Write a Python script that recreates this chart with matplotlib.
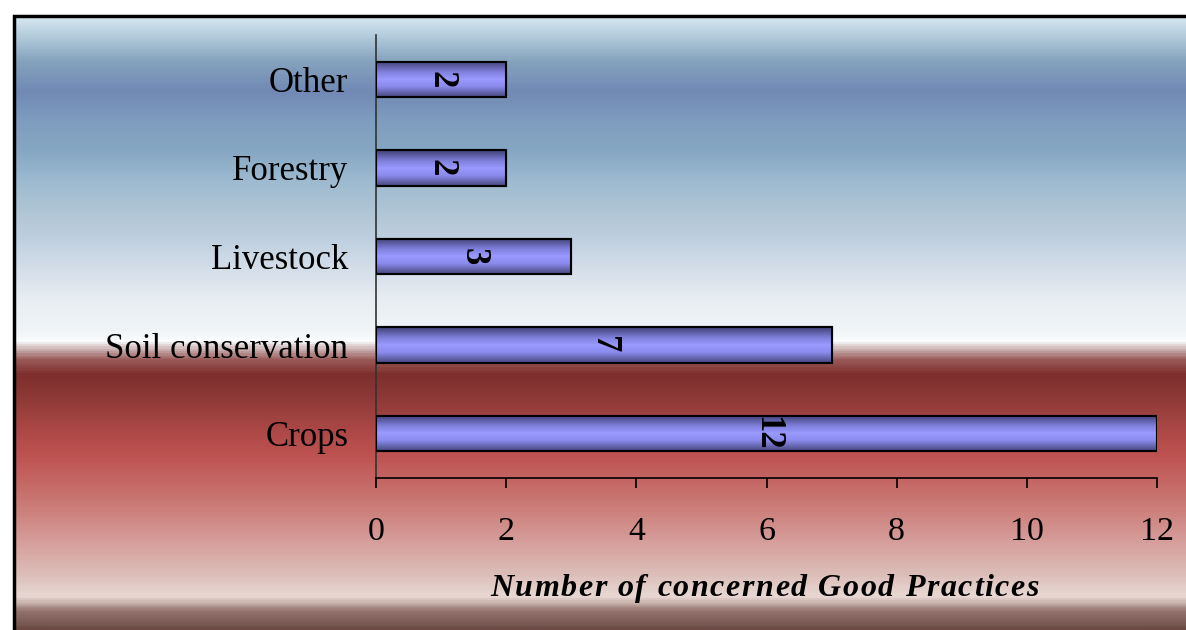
import numpy as np
import matplotlib
matplotlib.use("Agg")
import matplotlib.pyplot as plt
from matplotlib.colors import LinearSegmentedColormap

categories = ["Crops", "Soil conservation", "Livestock", "Forestry", "Other"]
counts = [12, 7, 3, 2, 2]
x_ticks = [0, 2, 4, 6, 8, 10, 12]
x_label = "Number of concerned Good Practices"

plt.rcParams["font.family"] = ["Liberation Serif", "DejaVu Serif"]

W, H = 1186, 630
fig = plt.figure(figsize=(W / 100, H / 100), dpi=100)
fig.patch.set_facecolor("white")

# background panel with vertical gradient (pixel rows from top of panel)
bg_stops = [
    (15, "#d8e8f2"), (40, "#a9c3d5"), (60, "#85a2bd"), (90, "#7189b5"),
    (120, "#7f9dbe"), (150, "#86a7c3"), (180, "#9dbad0"), (210, "#afc5d5"),
    (240, "#c0d0e0"), (270, "#d5dfea"), (300, "#e8eef3"), (330, "#f0f4f7"),
    (341, "#fafcfd"), (350, "#c8aeae"), (360, "#9a5a58"), (375, "#7d2e2c"),
    (400, "#8f3a38"), (430, "#ab4846"), (455, "#bd5250"), (490, "#c66d6a"),
    (520, "#cf8884"), (550, "#d8a5a2"), (575, "#dcbdb8"), (598, "#e8d8d3"),
    (605, "#c8b0aa"), (612, "#967570"), (625, "#7a5a55"), (630, "#6e4a45"),
]
y0, y1 = bg_stops[0][0], bg_stops[-1][0]
bg_cmap = LinearSegmentedColormap.from_list(
    "bg", [((p - y0) / (y1 - y0), c) for p, c in bg_stops])
bg_ax = fig.add_axes([13 / W, 0, 1 - 13 / W, (H - 15) / H])
bg_ax.imshow(np.linspace(0, 1, 600).reshape(-1, 1), aspect="auto", cmap=bg_cmap,
             extent=[0, 1, 0, 1], origin="upper")
bg_ax.set_xlim(0, 1)
bg_ax.set_ylim(0, 1)
bg_ax.axis("off")
bg_ax.plot([0.001, 0.001, 1.0], [0, 0.998, 0.998], color="black", lw=2.5,
           solid_joinstyle="miter", clip_on=False)

ax = fig.add_axes([376 / W, 1 - 478 / H, (1157 - 376) / W, (478 - 35) / H])
ax.patch.set_alpha(0)

ypos = np.arange(len(categories))
bars = ax.barh(ypos, counts, height=0.4, color="#9999ff", edgecolor="black",
               linewidth=1.5, zorder=3)

bar_cmap = LinearSegmentedColormap.from_list(
    "bar", [(0, "#404075"), (0.3, "#8080dd"), (0.5, "#9999ff"),
            (0.7, "#8c8cee"), (1, "#484880")])
for b in bars:
    x, y, w, h = b.get_x(), b.get_y(), b.get_width(), b.get_height()
    im = ax.imshow(np.linspace(0, 1, 100).reshape(-1, 1), cmap=bar_cmap,
                   aspect="auto", extent=[x, x + w, y, y + h], origin="upper",
                   zorder=3.5)
    im.set_clip_path(b)
    ax.add_patch(plt.Rectangle((x, y), w, h, fill=False, edgecolor="black",
                               linewidth=1.5, zorder=4))

for yp, v in zip(ypos, counts):
    ax.text(v / 2, yp, str(v), rotation=-90, ha="center", va="center",
            fontsize=25, fontweight="bold", zorder=5)

ax.set_xlim(0, 12)
ax.set_ylim(-0.5, len(categories) - 0.5)
ax.set_xticks(x_ticks)
ax.set_yticks(ypos)
ax.set_yticklabels(categories)
ax.tick_params(axis="y", length=0, pad=20, labelsize=25)
ax.tick_params(axis="x", direction="out", length=7.5, width=1.2, pad=20,
               labelsize=24.5)
for s in ["top", "right"]:
    ax.spines[s].set_visible(False)
ax.spines["left"].set_color("#333333")
ax.spines["left"].set_linewidth(1.2)
ax.spines["bottom"].set_linewidth(1.2)

# x label drawn letter by letter to get the wide tracking
renderer = fig.canvas.get_renderer()
lab_kw = dict(fontsize=23, fontweight="bold", fontstyle="italic")
tracking = 1.6
probe = fig.text(0, 0, "x", **lab_kw)
xw = probe.get_window_extent(renderer).width
offsets = []
for i in range(len(x_label)):
    probe.set_text(x_label[:i] + "x")
    offsets.append(probe.get_window_extent(renderer).width - xw + i * tracking)
probe.set_text(x_label)
total = probe.get_window_extent(renderer).width + (len(x_label) - 1) * tracking
probe.remove()
ax_box = ax.get_window_extent(renderer)
start = (ax_box.x0 + ax_box.x1) / 2 - total / 2 - 2
for ch, off in zip(x_label, offsets):
    fig.text((start + off) / W, (H - 596) / H, ch, ha="left", va="baseline",
             **lab_kw)

fig.savefig("out.png", dpi=100)
